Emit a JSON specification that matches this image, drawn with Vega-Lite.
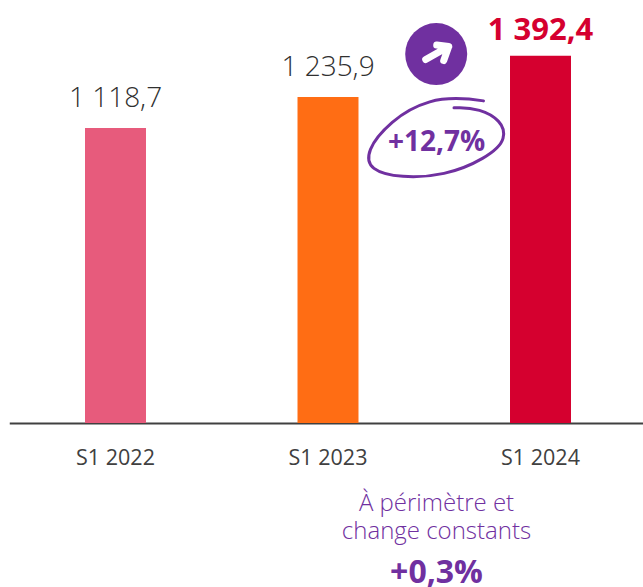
{
"$schema":"https://vega.github.io/schema/vega-lite/v6.json",
"width":643,"height":423,
"autosize":{"type":"none"},
"padding":{"left":0,"top":0,"right":0,"bottom":164},
"background":"white",
"config":{"view":{"stroke":null},"font":"Open Sans"},
"datasets":{
"bars":[
{"period":"S1 2022","value":1118.7,"label":"1 118,7"},
{"period":"S1 2023","value":1235.9,"label":"1 235,9"},
{"period":"S1 2024","value":1392.4,"label":"1 392,4"}],
"growth":[{"period":"S1 2023","y":1031,"text":"+12,7%"}],
"marker":[{"period":"S1 2023","y":1399}],
"loop":[{"period":"S1 2023","y":1085}],
"noteLight":[{"period":"S1 2023","y":-334,"text":"À périmètre et"},{"period":"S1 2023","y":-440,"text":"change constants"}],
"noteBold":[{"period":"S1 2023","y":-608,"text":"+0,3%"}]
},
"encoding":{
"x":{"field":"period","type":"nominal","sort":null,
"scale":{"type":"band","domain":["S1 2022","S1 2023","S1 2024"],"range":[9.25,646.75],"paddingInner":0.713,"paddingOuter":0.3565},
"axis":{"title":null,"labelAngle":0,"ticks":false,"domainColor":"#404040","domainWidth":2,"labelColor":"#404040","labelFontSize":21.5,"labelFontWeight":400,"labelFont":"Open Sans","labelPadding":35,"labelBaseline":"middle","grid":false}}
},
"layer":[
{"data":{"name":"bars"},"mark":{"type":"bar","clip":false},
"encoding":{"y":{"field":"value","type":"quantitative","scale":{"domain":[0,1604],"nice":false,"zero":true},"axis":null},
"color":{"field":"period","type":"nominal","scale":{"domain":["S1 2022","S1 2023","S1 2024"],"range":["#E75B7C","#FF6D14","#D5002F"]},"legend":null}}},
{"data":{"name":"bars"},"transform":[{"filter":"datum.period !== 'S1 2024'"}],
"mark":{"type":"text","align":"center","baseline":"alphabetic","dy":-21,"fontSize":28,"fontWeight":300,"color":"#303030"},
"encoding":{"y":{"field":"value","type":"quantitative"},"text":{"field":"label"}}},
{"data":{"name":"bars"},"transform":[{"filter":"datum.period === 'S1 2024'"}],
"mark":{"type":"text","align":"center","baseline":"alphabetic","dy":-16,"fontSize":31,"fontWeight":700,"color":"#D5002F"},
"encoding":{"y":{"field":"value","type":"quantitative"},"text":{"field":"label"}}},
{"data":{"name":"marker"},"mark":{"type":"point","shape":"circle","filled":true,"opacity":1,"color":"#7030A0","size":3844,"xOffset":108.2},
"encoding":{"y":{"field":"y","type":"quantitative"}}},
{"data":{"name":"marker"},"mark":{"type":"point","shape":"M-0.21 0.11 L0.25 -0.15 M0.01 -0.18 L0.25 -0.15 L0.15 0.13","filled":false,"opacity":1,"color":"white","strokeWidth":7,"strokeCap":"round","strokeJoin":"round","size":10000,"xOffset":108.2},
"encoding":{"y":{"field":"y","type":"quantitative"}}},
{"data":{"name":"loop"},"mark":{"type":"point","shape":"M0.94 -0.72 Q0.28 -0.82 -0.135 -0.70 Q-0.55 -0.58 -0.885 -0.29 Q-1.22 0 -1.32 0.25 Q-1.42 0.5 -1.25 0.63 Q-1.08 0.76 -0.67 0.79 Q-0.26 0.82 0.15 0.73 Q0.56 0.64 0.92 0.43 Q1.28 0.22 1.33 0.03 Q1.38 -0.16 1.24 -0.31 Q1.1 -0.46 0.86 -0.53 Q0.62 -0.6 0.35 -0.58","filled":false,"opacity":1,"color":"#7030A0","strokeWidth":3,"strokeCap":"round","size":10000,"xOffset":108.5},
"encoding":{"y":{"field":"y","type":"quantitative"}}},
{"data":{"name":"growth"},"mark":{"type":"text","align":"center","baseline":"alphabetic","dx":108.5,"fontSize":28,"fontWeight":700,"color":"#7030A0"},
"encoding":{"y":{"field":"y","type":"quantitative"},"text":{"field":"text"}}},
{"data":{"name":"noteLight"},"mark":{"type":"text","align":"center","baseline":"alphabetic","dx":108.5,"fontSize":24,"fontWeight":300,"color":"#7030A0"},
"encoding":{"y":{"field":"y","type":"quantitative"},"text":{"field":"text"}}},
{"data":{"name":"noteBold"},"mark":{"type":"text","align":"center","baseline":"alphabetic","dx":108.5,"fontSize":32,"fontWeight":700,"color":"#7030A0"},
"encoding":{"y":{"field":"y","type":"quantitative"},"text":{"field":"text"}}}
]
}
